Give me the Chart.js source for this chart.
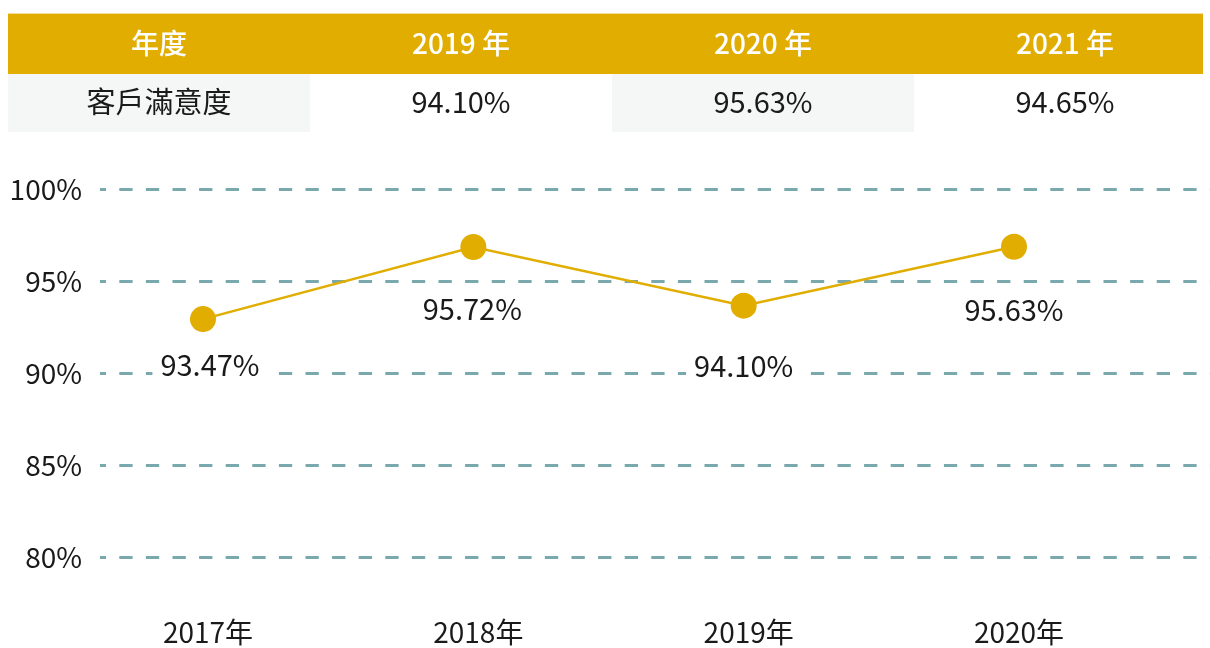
<!DOCTYPE html>
<html>
<head>
<meta charset="utf-8">
<script src="https://cdn.jsdelivr.net/npm/chart.js@4/dist/chart.umd.min.js"></script>
<style>
  html, body { margin: 0; padding: 0; background: #fff; }
  body { width: 1210px; height: 648px; position: relative; overflow: hidden; font-family: 'Noto Sans CJK TC', 'Noto Sans', sans-serif; }
  #tblWrap { position: absolute; left: 8px; top: 13px; width: 1195px; overflow: hidden; }
  #tbl { border-collapse: collapse; table-layout: fixed; width: 1208px; }
  #tbl td { width: 302px; text-align: center; padding: 0; line-height: 1; box-sizing: border-box; }
  #tbl tr.head td { background: #e0ad00; color: #fff; font-weight: 500; font-size: 28px; height: 60px; border-top: 1px solid #f1dc9a; padding-bottom: 3px; }
  #tbl tr.body td { color: #1a1a1a; font-size: 29px; height: 58px; padding-bottom: 4px; }
  #tbl tr.body td:nth-child(odd) { background: #f5f7f6; }
  #wrap { position: absolute; left: 0; top: 0; width: 1210px; height: 648px; }
</style>
</head>
<body>
<div id="wrap"><canvas id="satisChart"></canvas></div>
<div id="tblWrap"><table id="tbl"></table></div>
<script>
/* ============================================================
   DATOS
============================================================ */
const TABLA_HEAD  = ['年度', '2019 年', '2020 年', '2021 年'];
const TABLA_FILA  = ['客戶滿意度', '94.10%', '95.63%', '94.65%'];

const ANIOS       = ['2017年', '2018年', '2019年', '2020年'];
const SATISF      = [92.93, 96.85, 93.66, 96.86];
const ETIQUETAS   = ['93.47%', '95.72%', '94.10%', '95.63%'];
const Y_TICKS     = [80, 85, 90, 95, 100];

const ORO  = '#e0ad00';
const GRIS = '#79a9ac';
const FONT = "'Noto Sans CJK TC', 'Noto Sans', sans-serif";

/* ============================================================
   TABLA
============================================================ */
function llenarTabla() {
    const t = document.getElementById('tbl');
    t.innerHTML =
        '<tr class="head">' + TABLA_HEAD.map(h => `<td>${h}</td>`).join('') + '</tr>' +
        '<tr class="body">' + TABLA_FILA.map(c => `<td>${c}</td>`).join('') + '</tr>';
}

/* ============================================================
   GRÁFICO
============================================================ */
// etiquetas con fondo blanco bajo cada punto
const etiquetasPlugin = {
    id: 'etiquetas',
    afterDatasetsDraw(chart, args, opts) {
        const ctx = chart.ctx;
        const meta = chart.getDatasetMeta(0);
        ctx.save();
        ctx.font = `${opts.size}px ${FONT}`;
        ctx.textAlign = 'center';
        ctx.textBaseline = 'middle';
        meta.data.forEach((p, i) => {
            const txt = ETIQUETAS[i];
            const [dx, dy] = opts.offsets[i];
            const x = p.x + dx, y = p.y + dy;
            const w = ctx.measureText(txt).width + 16;
            ctx.fillStyle = '#fff';
            ctx.fillRect(x - w / 2, y - opts.size * 0.6, w, opts.size * 1.2);
            ctx.fillStyle = '#1a1a1a';
            ctx.fillText(txt, x, y);
        });
        ctx.restore();
    }
};

let miGrafico = null;

function procesarGrafico() {
    const ctx = document.getElementById('satisChart').getContext('2d');
    if (miGrafico) { miGrafico.destroy(); miGrafico = null; }

    miGrafico = new Chart(ctx, {
        type: 'line',
        data: {
            datasets: [{
                data: SATISF.map((v, i) => ({ x: i, y: v })),
                borderColor: ORO,
                backgroundColor: ORO,
                borderWidth: 2.5,
                pointRadius: 13,
                pointHoverRadius: 13,
                pointBorderWidth: 0,
                tension: 0,
                clip: false
            }]
        },
        options: {
            responsive: false,
            animation: false,
            events: [],
            layout: { autoPadding: false, padding: { top: 189, right: 0, bottom: 0, left: 0 } },
            plugins: {
                legend: { display: false },
                tooltip: { enabled: false },
                etiquetas: { size: 29, offsets: [[7, 46], [-1, 62], [0, 60], [0, 63]] }
            },
            scales: {
                x: {
                    type: 'linear',
                    min: -0.381,
                    max: 3.725,
                    afterBuildTicks: ax => { ax.ticks = ANIOS.map((_, i) => ({ value: i })); },
                    afterFit: ax => { ax.height = 91; },
                    grid: { display: false },
                    border: { display: false },
                    ticks: {
                        callback: v => ANIOS[v] ?? '',
                        color: '#1a1a1a',
                        font: { family: FONT, size: 28 },
                        padding: 51,
                        labelOffset: 5,
                        maxRotation: 0
                    }
                },
                y: {
                    min: 80,
                    max: 100,
                    afterBuildTicks: ax => { ax.ticks = Y_TICKS.map(v => ({ value: v })); },
                    afterFit: ax => { ax.width = 100; },
                    grid: { color: GRIS, lineWidth: 3, drawTicks: false },
                    border: { display: false, dash: [13.3, 13.3], dashOffset: 7.3 },
                    ticks: {
                        callback: v => v + '%',
                        color: '#1a1a1a',
                        font: { family: FONT, size: 28 },
                        padding: 18
                    }
                }
            }
        },
        plugins: [etiquetasPlugin]
    });
}

llenarTabla();
const cv = document.getElementById('satisChart');
cv.width = 1210; cv.height = 648;
cv.style.width = '1210px'; cv.style.height = '648px';
procesarGrafico();
</script>
</body>
</html>
